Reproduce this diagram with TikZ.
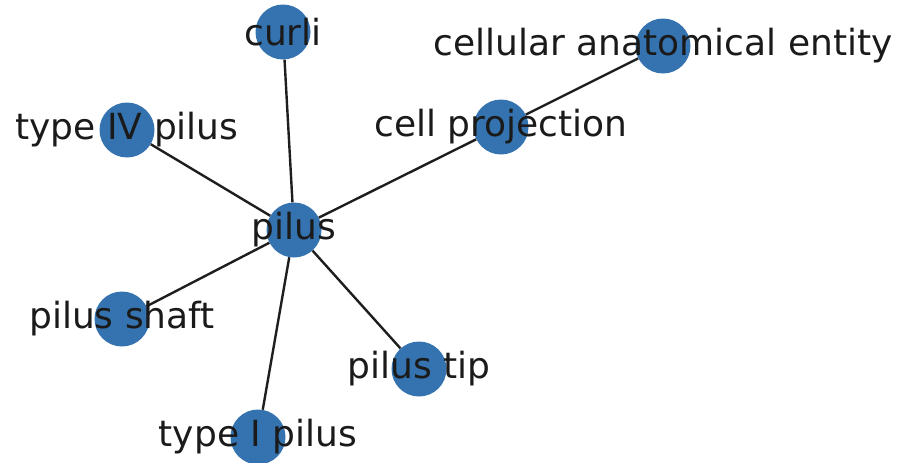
\documentclass[tikz,border=0pt]{standalone}
\usepackage{fontspec}
\setmainfont{DejaVu Sans}
\definecolor{nodeblue}{HTML}{3473B0}
\definecolor{edgecol}{HTML}{1E1E1E}
\definecolor{textcol}{HTML}{1A1A1A}
\tikzset{
  vert/.style={circle,fill=nodeblue,minimum size=55pt,inner sep=0pt},
  lab/.style={text=textcol,font=\fontsize{36}{40}\selectfont,inner sep=0pt,anchor=center},
  edge/.style={draw=edgecol,line width=2.4pt}
}
\begin{document}
\begin{tikzpicture}[x=1pt,y=-1pt]
\useasboundingbox (0,0) rectangle (910,463);
\node[vert] (curli) at (283,32) {};
\node[vert] (cae) at (663,46) {};
\node[vert] (t4) at (127,130) {};
\node[vert] (cp) at (501,127) {};
\node[vert] (pilus) at (294,230) {};
\node[vert] (ps) at (122,319) {};
\node[vert] (pt) at (419,369) {};
\node[vert] (t1) at (258,437) {};
\draw[edge] (pilus) -- (curli);
\draw[edge] (pilus) -- (t4);
\draw[edge] (pilus) -- (cp);
\draw[edge] (cp) -- (cae);
\draw[edge] (pilus) -- (ps);
\draw[edge] (pilus) -- (pt);
\draw[edge] (pilus) -- (t1);
\node[lab] (lcurli) at (curli) {curli};
\node[lab] (lcae) at (cae) {cellular anatomical entity};
\node[lab] (lt4) at (t4) {type IV pilus};
\node[lab] (lcp) at (cp) {cell projection};
\node[lab] (lpilus) at (pilus) {pilus};
\node[lab] (lps) at (ps) {pilus shaft};
\node[lab] (lpt) at (pt) {pilus tip};
\node[lab] (lt1) at (t1) {type I pilus};
\end{tikzpicture}
\end{document}
